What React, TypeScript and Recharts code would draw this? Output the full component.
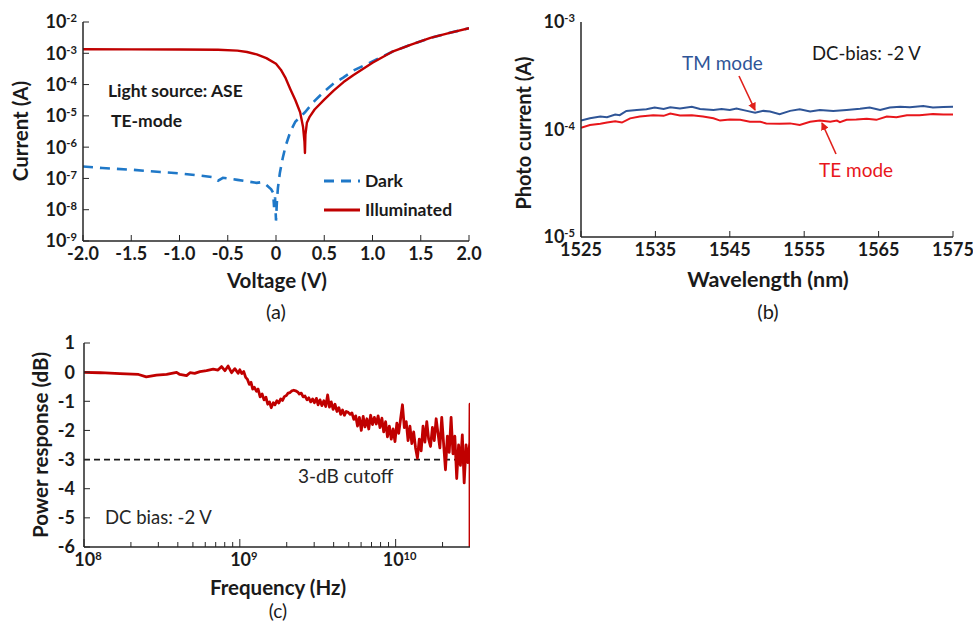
import React from 'react';
import { LineChart, Line, XAxis, YAxis, ReferenceLine, Legend } from 'recharts';

const FONT = 'Lato, "Liberation Sans", sans-serif';
const AXIS = '#262626';

// (a) I-V curves
const voltTicks = [-2, -1.5, -1, -0.5, 0, 0.5, 1, 1.5, 2];
const currentTicks = [1e-9, 1e-8, 1e-7, 1e-6, 1e-5, 1e-4, 1e-3, 1e-2];
const darkVolt = [-2.0, -1.8, -1.5, -1.2, -1.0, -0.8, -0.65, -0.6, -0.55, -0.4, -0.2, -0.15, -0.1, -0.05, -0.03, -0.02, -0.01, 0.0, 0.01, 0.02, 0.04, 0.07, 0.1, 0.15, 0.2, 0.3, 0.4, 0.5, 0.6, 0.7, 0.8, 1.0, 1.2, 1.4, 1.6, 1.8, 2.0];
const darkCurrent = [2.4e-7, 2.15e-7, 1.9e-7, 1.6e-7, 1.45e-7, 1.25e-7, 1.1e-7, 8.5e-8, 1.05e-7, 9e-8, 7.2e-8, 7.6e-8, 6.2e-8, 4.5e-8, 3.5e-8, 1.2e-8, 2.5e-8, 4.5e-9, 2e-8, 5e-8, 1.5e-7, 4.5e-7, 1.1e-6, 3.2e-6, 6.5e-6, 1.3e-5, 3e-5, 6e-5, 1.1e-4, 1.7e-4, 2.8e-4, 5.5e-4, 1.1e-3, 1.9e-3, 3.1e-3, 4.5e-3, 6.3e-3];
const illumVolt = [-2.0, -1.5, -1.0, -0.6, -0.4, -0.3, -0.2, -0.1, 0.0, 0.05, 0.1, 0.15, 0.2, 0.25, 0.28, 0.295, 0.3, 0.305, 0.32, 0.35, 0.4, 0.5, 0.6, 0.7, 0.8, 1.0, 1.2, 1.4, 1.6, 1.8, 2.0];
const illumCurrent = [1.35e-3, 1.33e-3, 1.32e-3, 1.3e-3, 1.22e-3, 1.1e-3, 9.2e-4, 7e-4, 4.6e-4, 3e-4, 1.6e-4, 7e-5, 3.2e-5, 1.3e-5, 4.5e-6, 1.5e-6, 6.5e-7, 2.5e-6, 6e-6, 9.5e-6, 1.6e-5, 3.3e-5, 6.5e-5, 1.2e-4, 2e-4, 5e-4, 1.1e-3, 1.9e-3, 3.1e-3, 4.5e-3, 6.3e-3];

// (b) photocurrent vs wavelength
const wlTicks = [1525, 1535, 1545, 1555, 1565, 1575];
const photoTicks = [1e-5, 1e-4, 1e-3];
const tmWl = [1525.0, 1526.2, 1527.6, 1528.5, 1529.6, 1530.2, 1531.1, 1532.5, 1533.8, 1534.9, 1536.1, 1537.0, 1538.3, 1539.9, 1541.0, 1542.8, 1543.9, 1545.0, 1545.9, 1547.3, 1548.4, 1549.5, 1550.4, 1551.7, 1553.1, 1554.4, 1555.8, 1557.1, 1558.9, 1560.7, 1562.5, 1563.8, 1565.2, 1566.5, 1567.9, 1569.2, 1571.0, 1572.3, 1573.7, 1575.0];
const tmCurrent = [1.21e-4, 1.27e-4, 1.32e-4, 1.30e-4, 1.38e-4, 1.36e-4, 1.49e-4, 1.52e-4, 1.54e-4, 1.60e-4, 1.55e-4, 1.61e-4, 1.57e-4, 1.63e-4, 1.55e-4, 1.52e-4, 1.55e-4, 1.52e-4, 1.57e-4, 1.49e-4, 1.43e-4, 1.49e-4, 1.47e-4, 1.39e-4, 1.49e-4, 1.54e-4, 1.47e-4, 1.52e-4, 1.49e-4, 1.52e-4, 1.56e-4, 1.60e-4, 1.52e-4, 1.60e-4, 1.63e-4, 1.61e-4, 1.65e-4, 1.60e-4, 1.62e-4, 1.63e-4];
const teWl = [1525.0, 1526.2, 1527.6, 1528.5, 1529.6, 1530.5, 1531.6, 1532.9, 1534.7, 1536.1, 1537.0, 1538.3, 1539.9, 1541.4, 1542.8, 1543.7, 1545.0, 1546.4, 1547.7, 1549.1, 1549.9, 1551.7, 1553.1, 1554.4, 1555.8, 1557.1, 1558.5, 1559.4, 1559.8, 1560.7, 1562.0, 1563.4, 1564.7, 1566.1, 1567.4, 1568.8, 1570.5, 1572.3, 1573.7, 1575.0];
const teCurrent = [1.04e-4, 1.10e-4, 1.13e-4, 1.16e-4, 1.19e-4, 1.16e-4, 1.27e-4, 1.32e-4, 1.36e-4, 1.34e-4, 1.41e-4, 1.35e-4, 1.36e-4, 1.32e-4, 1.27e-4, 1.21e-4, 1.24e-4, 1.23e-4, 1.18e-4, 1.18e-4, 1.14e-4, 1.13e-4, 1.14e-4, 1.10e-4, 1.18e-4, 1.21e-4, 1.18e-4, 1.21e-4, 1.17e-4, 1.23e-4, 1.24e-4, 1.26e-4, 1.23e-4, 1.32e-4, 1.30e-4, 1.36e-4, 1.36e-4, 1.39e-4, 1.38e-4, 1.38e-4];

// (c) frequency response
const freqTicks = [1e8, 2e8, 3e8, 4e8, 5e8, 6e8, 7e8, 8e8, 9e8, 1e9, 2e9, 3e9, 4e9, 5e9, 6e9, 7e9, 8e9, 9e9, 1e10, 2e10];
const dbTicks = [-6, -5, -4, -3, -2, -1, 0, 1];
const freqHz = [
  1.0e8, 1.27e8, 1.70e8, 2.24e8, 2.51e8, 2.92e8, 3.39e8, 3.93e8, 4.12e8, 4.55e8, 4.79e8, 5.13e8, 5.55e8, 6.11e8,
  6.75e8, 7.24e8, 7.64e8, 8.02e8, 8.41e8, 8.85e8, 9.29e8, 9.75e8,
  1.00e9, 1.03e9, 1.06e9, 1.09e9, 1.12e9, 1.15e9, 1.18e9, 1.21e9, 1.24e9, 1.28e9, 1.31e9, 1.35e9, 1.39e9, 1.43e9,
  1.47e9, 1.51e9, 1.55e9, 1.59e9, 1.64e9, 1.68e9, 1.73e9, 1.78e9, 1.83e9, 1.88e9, 1.93e9, 1.99e9, 2.04e9, 2.10e9,
  2.16e9, 2.22e9, 2.28e9, 2.35e9, 2.41e9, 2.48e9, 2.55e9, 2.62e9, 2.70e9, 2.77e9, 2.85e9, 2.93e9, 3.01e9, 3.10e9,
  3.18e9, 3.27e9, 3.36e9, 3.46e9, 3.56e9, 3.66e9, 3.76e9, 3.86e9, 3.97e9, 4.08e9, 4.20e9, 4.32e9, 4.44e9, 4.56e9,
  4.69e9, 4.82e9, 4.96e9, 5.10e9, 5.24e9, 5.39e9, 5.54e9, 5.69e9, 5.85e9, 6.02e9, 6.19e9, 6.36e9, 6.54e9, 6.72e9,
  6.91e9, 7.10e9, 7.30e9, 7.51e9, 7.72e9, 7.93e9, 8.16e9, 8.38e9, 8.62e9, 8.86e9, 9.11e9, 9.37e9, 9.63e9, 9.90e9,
  1.018e10, 1.046e10, 1.076e10, 1.106e10, 1.137e10, 1.169e10, 1.201e10, 1.235e10, 1.270e10, 1.305e10, 1.342e10,
  1.379e10, 1.418e10, 1.458e10, 1.499e10, 1.541e10, 1.584e10, 1.628e10, 1.674e10, 1.721e10, 1.769e10, 1.819e10,
  1.870e10, 1.922e10, 1.976e10, 2.031e10, 2.088e10, 2.147e10, 2.207e10, 2.269e10, 2.332e10, 2.398e10, 2.465e10,
  2.534e10, 2.605e10, 2.678e10, 2.753e10, 2.830e10, 2.909e10, 2.990e10, 3.0e10, 3.0e10,
];
const powerDb = [
  -0.01, -0.02, -0.05, -0.08, -0.16, -0.10, -0.08, -0.01, -0.08, -0.12, -0.02, -0.04, 0.02, 0.05,
  0.10, 0.07, 0.19, 0.05, 0.21, -0.02, 0.12, -0.04,
  0.08, -0.05, 0.02, -0.18, -0.25, -0.42, -0.35, -0.58, -0.52, -0.66, -0.58, -0.85, -0.75, -0.95,
  -0.86, -1.10, -1.02, -1.22, -1.05, -1.12, -0.98, -1.06, -0.92, -0.97, -0.84, -0.80, -0.72, -0.70,
  -0.64, -0.62, -0.64, -0.68, -0.75, -0.72, -0.85, -0.82, -0.95, -0.88, -1.02, -0.92, -1.05, -0.90,
  -1.12, -0.95, -1.15, -0.98, -1.18, -0.78, -1.20, -1.02, -1.28, -1.10, -1.35, -1.22, -1.45, -1.30,
  -1.48, -1.35, -1.38, -1.45, -1.40, -1.62, -1.50, -1.85, -1.55, -2.00, -1.52, -1.88, -1.60, -1.95,
  -1.48, -1.80, -1.55, -1.78, -1.50, -1.90, -1.58, -2.05, -1.70, -2.22, -1.85, -2.30, -1.95, -2.38,
  -1.75, -2.10, -1.60, -1.12, -1.90, -1.70, -2.35, -1.85, -2.45, -2.05, -2.60,
  -2.95, -2.30, -2.70, -1.85, -2.40, -1.70, -2.30, -2.55, -1.90, -2.35, -1.60,
  -2.10, -2.60, -1.55, -2.45, -3.35, -2.20, -2.75, -1.55, -2.80, -2.20, -3.65,
  -2.50, -3.20, -2.15, -3.80, -2.50, -3.10, -2.40, -1.10, -6.0,
];

const darkData = darkVolt.map((v, k) => ({ v, i: darkCurrent[k] }));
const illumData = illumVolt.map((v, k) => ({ v, i: illumCurrent[k] }));
const tmData = tmWl.map((w, k) => ({ w, i: tmCurrent[k] }));
const teData = teWl.map((w, k) => ({ w, i: teCurrent[k] }));
const respData = freqHz.map((f, k) => ({ f, db: powerDb[k] }));

const isDecade = (v: number) => Math.abs(Math.log10(v) - Math.round(Math.log10(v))) < 1e-6;

const pow10 = (v: number) => (
  <>
    <tspan>10</tspan>
    <tspan dy="-0.55em" fontSize="0.62em">{Math.round(Math.log10(v))}</tspan>
  </>
);

type TickOpts = {
  side: 'left' | 'bottom';
  gap: number;
  len: (v: number) => number;
  label: (v: number) => React.ReactNode;
  dx?: number;
};

const makeTick = ({ side, gap, len, label, dx = 0 }: TickOpts) => (props: any) => {
  const { x, y, payload } = props;
  const v = payload.value;
  const l = len(v);
  const text = label(v);
  const textStyle = { fontFamily: FONT, fontWeight: 700, fontSize: 18, fill: '#1a1a1a' };
  if (side === 'bottom') {
    const y0 = y - gap;
    return (
      <g>
        {l > 0 && <line x1={x} x2={x} y1={y0} y2={y0 - l} stroke={AXIS} strokeWidth={1} />}
        {text !== null && (
          <text x={x + dx} y={y} dy="0.72em" textAnchor="middle" style={textStyle}>
            {text}
          </text>
        )}
      </g>
    );
  }
  const x0 = x + gap;
  return (
    <g>
      {l > 0 && <line x1={x0} x2={x0 + l} y1={y} y2={y} stroke={AXIS} strokeWidth={1} />}
      {text !== null && (
        <text x={x} y={y} dy="0.36em" textAnchor="end" style={textStyle}>
          {text}
        </text>
      )}
    </g>
  );
};

const frameLine = { stroke: AXIS, strokeWidth: 1.5 };

const renderLegend = (props: any) => (
  <div style={{ fontFamily: FONT, fontWeight: 700, fontSize: 17.5, color: '#1a1a1a' }}>
    {(props.payload || []).map((entry: any) => (
      <div key={entry.value} style={{ display: 'flex', alignItems: 'center', height: 29 }}>
        <svg width={38} height={8}>
          <line x1={1} x2={37} y1={4} y2={4} stroke={entry.color} strokeWidth={3}
            strokeDasharray={entry.payload?.strokeDasharray} />
        </svg>
        <span style={{ marginLeft: 4 }}>{entry.value}</span>
      </div>
    ))}
  </div>
);

const Txt = ({ x, y, size = 18, weight = 400, color = '#1a1a1a', rotate = false, center = false, children }: any) => (
  <div
    style={{
      position: 'absolute',
      left: x,
      top: y,
      fontFamily: FONT,
      fontSize: size,
      fontWeight: weight,
      color,
      lineHeight: 1,
      whiteSpace: 'nowrap',
      transform: rotate
        ? 'translate(-50%, -50%) rotate(-90deg)'
        : center
        ? 'translate(-50%, -50%)'
        : 'translate(0, -50%)',
    }}
  >
    {children}
  </div>
);

export default function App() {
  return (
    <div style={{ position: 'absolute', left: 0, top: 0, width: 973, height: 623, background: '#fff', overflow: 'hidden' }}>
      {/* (a) */}
      <div style={{ position: 'absolute', left: 0, top: 0 }}>
        <LineChart width={490} height={280} margin={{ top: 22, right: 21, bottom: 9, left: 0 }}>
          <XAxis xAxisId="v" type="number" dataKey="v" domain={[-2, 2]} ticks={voltTicks} interval={0}
            height={30} tickSize={0} tickMargin={6} tickLine={false} axisLine={frameLine} allowDataOverflow
            tick={makeTick({ side: 'bottom', gap: 6, len: () => 6, label: (v) => (v === 0 ? '0' : v.toFixed(1)) })} />
          <XAxis xAxisId="top" orientation="top" type="number" domain={[0, 1]} height={0} tick={false} tickLine={false} axisLine={frameLine} />
          <YAxis yAxisId="i" type="number" scale="log" domain={[1e-9, 1e-2]} ticks={currentTicks} interval={0}
            width={83} tickSize={0} tickMargin={6} tickLine={false} axisLine={frameLine} allowDataOverflow
            tick={makeTick({ side: 'left', gap: 6, len: () => 6, label: pow10 })} />
          <YAxis yAxisId="r" orientation="right" type="number" domain={[0, 1]} width={0} tick={false} tickLine={false} axisLine={frameLine} />
          <Legend layout="vertical" align="center" verticalAlign="middle" content={renderLegend}
            wrapperStyle={{ left: 323, top: 166, width: 'auto' }} />
          <Line xAxisId="v" yAxisId="i" name="Dark" data={darkData} dataKey="i" type="linear" stroke="#1f78c8"
            strokeWidth={2.6} strokeDasharray="10 7" dot={false} isAnimationActive={false} />
          <Line xAxisId="v" yAxisId="i" name="Illuminated" data={illumData} dataKey="i" type="linear" stroke="#c00000"
            strokeWidth={2.4} dot={false} isAnimationActive={false} strokeLinejoin="round" />
        </LineChart>
      </div>

      {/* (b) */}
      <div style={{ position: 'absolute', left: 490, top: 0 }}>
        <LineChart width={483} height={280} margin={{ top: 22, right: 20, bottom: 13, left: 0 }}>
          <XAxis xAxisId="w" type="number" dataKey="w" domain={[1525, 1575]} ticks={wlTicks} interval={0}
            height={30} tickSize={0} tickMargin={6} tickLine={false} axisLine={frameLine} allowDataOverflow
            tick={makeTick({ side: 'bottom', gap: 6, len: () => 6, label: (v) => String(v) })} />
          <XAxis xAxisId="top" orientation="top" type="number" domain={[0, 1]} height={0} tick={false} tickLine={false} axisLine={frameLine} />
          <YAxis yAxisId="i" type="number" scale="log" domain={[1e-5, 1e-3]} ticks={photoTicks} interval={0}
            width={91} tickSize={0} tickMargin={6} tickLine={false} axisLine={frameLine} allowDataOverflow
            tick={makeTick({ side: 'left', gap: 6, len: () => 0, label: pow10 })} />
          <YAxis yAxisId="r" orientation="right" type="number" domain={[0, 1]} width={0} tick={false} tickLine={false} axisLine={frameLine} />
          <Line xAxisId="w" yAxisId="i" name="TM mode" data={tmData} dataKey="i" type="linear" stroke="#2f5597"
            strokeWidth={2} dot={false} isAnimationActive={false} />
          <Line xAxisId="w" yAxisId="i" name="TE mode" data={teData} dataKey="i" type="linear" stroke="#e8161b"
            strokeWidth={2} dot={false} isAnimationActive={false} />
        </LineChart>
      </div>

      {/* (c) */}
      <div style={{ position: 'absolute', left: 0, top: 320 }}>
        <LineChart width={490} height={270} margin={{ top: 23, right: 20, bottom: 13, left: 0 }}>
          <XAxis xAxisId="f" type="number" scale="log" dataKey="f" domain={[1e8, 3e10]} ticks={freqTicks} interval={0}
            height={30} tickSize={0} tickMargin={6} tickLine={false} axisLine={frameLine} allowDataOverflow
            tick={makeTick({ side: 'bottom', gap: 6, dx: 4, len: (v) => (isDecade(v) ? 8 : 5), label: (v) => (isDecade(v) ? pow10(v) : null) })} />
          <XAxis xAxisId="top" orientation="top" type="number" domain={[0, 1]} height={0} tick={false} tickLine={false} axisLine={frameLine} />
          <YAxis yAxisId="db" type="number" domain={[-6, 1]} ticks={dbTicks} interval={0}
            width={84} tickSize={0} tickMargin={9} tickLine={false} axisLine={frameLine} allowDataOverflow
            tick={makeTick({ side: 'left', gap: 9, len: () => 6, label: (v) => String(v) })} />
          <YAxis yAxisId="r" orientation="right" type="number" domain={[0, 1]} width={0} tick={false} tickLine={false} axisLine={{ stroke: '#c00000', strokeWidth: 1 }} />
          <ReferenceLine xAxisId="f" yAxisId="db" y={-3} stroke="#1a1a1a" strokeWidth={1.8} strokeDasharray="6 4" />
          <Line xAxisId="f" yAxisId="db" data={respData} dataKey="db" type="linear" stroke="#c00000"
            strokeWidth={2.8} dot={false} isAnimationActive={false} strokeLinejoin="round" />
        </LineChart>
      </div>

      {/* axis titles, captions and notes */}
      <Txt x={20} y={131} size={20.5} weight={700} rotate>Current (A)</Txt>
      <Txt x={277} y={280} size={20.5} weight={700} center>Voltage (V)</Txt>
      <Txt x={276} y={311} size={20} center>(a)</Txt>
      <Txt x={108} y={91} size={17.5} weight={700}>Light source: ASE</Txt>
      <Txt x={111} y={121} size={17.5} weight={700}>TE-mode</Txt>

      <Txt x={523} y={133} size={20} weight={700} rotate>Photo current (A)</Txt>
      <Txt x={768} y={280} size={21.5} weight={700} center>Wavelength (nm)</Txt>
      <Txt x={768} y={311} size={20} center>(b)</Txt>
      <Txt x={682} y={62} size={19} color="#2f5597">TM mode</Txt>
      <Txt x={812} y={53} size={18.5}>DC-bias: -2 V</Txt>
      <Txt x={819} y={169} size={19} color="#e8161b">TE mode</Txt>

      <Txt x={40} y={445} size={20.5} weight={700} rotate>Power response (dB)</Txt>
      <Txt x={278} y={587} size={20.5} weight={700} center>Frequency (Hz)</Txt>
      <Txt x={278} y={610} size={19} center>(c)</Txt>
      <Txt x={298} y={475} size={19} color="#262626">3-dB cutoff</Txt>
      <Txt x={105} y={517} size={18.5} color="#262626">DC bias: -2 V</Txt>

      <svg width={973} height={623} style={{ position: 'absolute', left: 0, top: 0, pointerEvents: 'none' }}>
        <defs>
          <marker id="head" markerWidth={8} markerHeight={8} refX={7} refY={4} orient="auto" markerUnits="userSpaceOnUse">
            <path d="M0,0 L8,4 L0,8 z" fill="#e0201b" />
          </marker>
        </defs>
        <line x1={739} y1={76} x2={755} y2={110} stroke="#e0201b" strokeWidth={1.6} markerEnd="url(#head)" />
        <line x1={836} y1={154} x2={822} y2={123} stroke="#e0201b" strokeWidth={1.6} markerEnd="url(#head)" />
      </svg>
    </div>
  );
}
